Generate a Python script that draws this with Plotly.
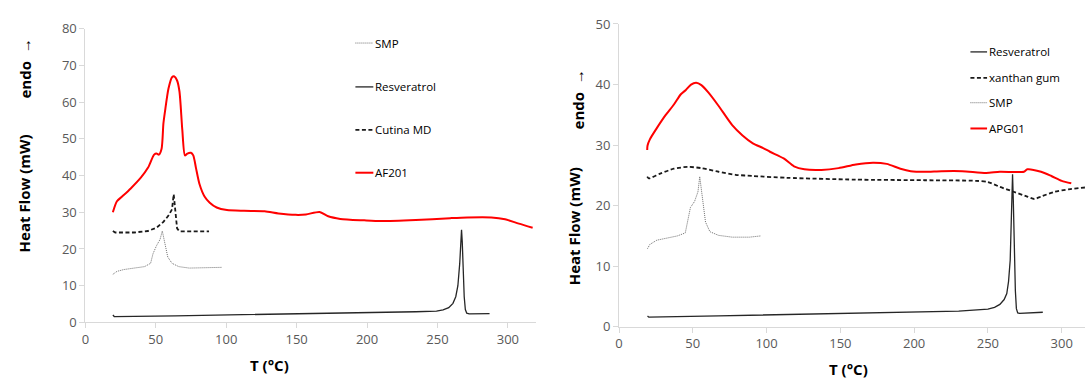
import plotly.graph_objects as go

# ---------------- Left chart data ----------------
af201_T = [19.5, 22.4, 26.1, 32.2, 39.5, 44.4, 48.8, 50.5, 52.2, 54.1, 55.4, 56.6, 59.0, 61.5, 63.2, 65.1,
           66.8, 68.8, 70.7, 72.4, 74.9, 76.6, 78.5, 81.0, 84.6, 88.3, 93.2, 100.5, 112.7, 127.3, 137.1,
           149.3, 156.6, 166.3, 172.4, 181.0, 198.0, 210.0, 234.6, 259.0, 271.2, 288.3, 298.0, 307.8, 317.6]
af201_H = [30.0, 33.0, 34.3, 36.5, 39.5, 42.1, 45.7, 46.0, 45.7, 47.3, 54.2, 57.7, 63.7, 66.8, 67.0, 65.9,
           62.9, 52.5, 45.5, 46.0, 46.2, 45.5, 42.1, 37.7, 34.3, 32.6, 31.3, 30.6, 30.4, 30.3, 29.7,
           29.3, 29.4, 30.1, 28.9, 28.2, 27.8, 27.6, 27.9, 28.4, 28.6, 28.6, 28.1, 26.9, 25.8]

cutina_T = [19.5, 21.2, 34.6, 44.4, 50.5, 55.4, 59.0, 61.5, 62.7, 63.9, 65.1, 66.8, 87.8]
cutina_H = [24.9, 24.5, 24.5, 24.9, 25.8, 27.4, 29.1, 30.8, 34.9, 30.0, 25.6, 24.8, 24.8]

smpL_T = [19.5, 22.4, 27.3, 34.6, 42.0, 46.3, 48.0, 50.5, 53.0, 54.6, 56.6, 58.5, 61.5, 66.3, 73.7, 88.3, 96.8]
smpL_H = [13.1, 13.9, 14.4, 14.8, 15.2, 16.1, 18.7, 20.9, 22.6, 24.9, 21.3, 17.8, 16.1, 15.2, 14.8, 14.8, 15.0]

resL_T = [19.5, 20.5, 63.9, 137.0, 185.9, 234.6, 249.3, 254.0, 258.0, 261.0, 263.0, 264.5, 265.8, 266.6,
          267.1, 267.6, 268.3, 269.0, 269.8, 270.8, 272.5, 287.0]
resL_H = [2.0, 1.6, 1.8, 2.25, 2.5, 2.9, 3.1, 3.4, 4.0, 5.2, 7.0, 10.0, 16.0, 22.0,
          25.2, 22.0, 14.0, 7.0, 3.5, 2.5, 2.3, 2.4]

# ---------------- Right chart data ----------------
apg_T = [19.1, 19.3, 20.9, 25.6, 31.4, 37.2, 41.9, 45.3, 48.8, 52.3, 55.8, 60.5, 67.4, 76.7, 83.7, 90.7,
         97.7, 102.3, 111.6, 118.6, 125.6, 137.2, 148.8, 160.5, 172.1, 181.4, 190.7, 197.7, 207.0, 218.6,
         232.6, 248.8, 258.1, 274.4, 276.7, 286.0, 293.0, 300.0, 306.5]
apg_H = [29.2, 29.9, 30.95, 32.8, 34.9, 36.7, 38.4, 39.1, 40.0, 40.3, 39.9, 38.7, 36.5, 33.3, 31.6, 30.3,
         29.5, 28.9, 27.8, 26.5, 26.0, 25.9, 26.2, 26.8, 27.1, 26.9, 26.1, 25.7, 25.6, 25.7,
         25.7, 25.4, 25.6, 25.6, 26.0, 25.6, 24.9, 24.1, 23.7]

xan_T = [19.1, 20.2, 27.9, 37.2, 46.5, 55.8, 67.4, 79.0, 90.7, 113.9, 160.5, 207.0, 241.9, 250.0, 258.1,
         267.4, 276.7, 281.4, 286.0, 295.3, 304.7, 315.8, 322.0]
xan_H = [24.8, 24.5, 25.3, 26.1, 26.4, 26.2, 25.6, 25.1, 24.9, 24.6, 24.3, 24.2, 24.1, 23.9, 23.1,
         22.3, 21.5, 21.1, 21.5, 22.3, 22.7, 23.0, 23.0]

smpR_T = [19.3, 20.9, 25.6, 32.6, 39.5, 44.9, 46.5, 48.4, 51.2, 53.5, 54.7, 56.3, 58.6, 61.6, 67.4, 76.7, 88.4, 95.8]
smpR_H = [12.9, 13.6, 14.3, 14.6, 15.0, 15.5, 17.3, 19.7, 20.7, 22.3, 24.8, 22.0, 17.3, 15.7, 15.1, 14.8, 14.8, 15.0]

resR_T = [19.3, 20.2, 67.4, 137.2, 183.7, 230.2, 250.0, 254.5, 258.1, 261.0, 262.8, 264.0, 265.1, 266.0,
          266.7, 267.2, 267.9, 268.6, 269.3, 270.2, 271.5, 287.2]
resR_H = [1.8, 1.6, 1.8, 2.1, 2.4, 2.6, 2.9, 3.2, 3.7, 4.5, 5.5, 7.5, 11.0, 18.0,
          25.2, 21.0, 13.0, 6.0, 3.0, 2.3, 2.2, 2.4]

x_ticks = [0, 50, 100, 150, 200, 250, 300]
yL_ticks = [0, 10, 20, 30, 40, 50, 60, 70, 80]
yR_ticks = [0, 10, 20, 30, 40, 50]

legendL = ["SMP", "Resveratrol", "Cutina MD", "AF201"]
legendR = ["Resveratrol", "xanthan gum", "SMP", "APG01"]

# ---------------- Styles ----------------
W, H = 1085, 387
FONT = "Open Sans"
RED = dict(color="#ff0000", width=2)
BLACK = dict(color="#262626", width=1.3)
DASHED = dict(color="#1a1a1a", width=1.8, dash="4px,2.5px")
DOTTED = dict(color="#6e6e6e", width=1, dash="1px,1px")
style = {"SMP": DOTTED, "Resveratrol": BLACK, "Cutina MD": DASHED, "xanthan gum": DASHED,
         "AF201": RED, "APG01": RED}

fig = go.Figure()

def add(x, y, name, xa, ya, shape="linear"):
    line = dict(**style[name], shape=shape)
    if shape == "spline":
        line["smoothing"] = 0.7
    fig.add_trace(go.Scatter(x=x, y=y, mode="lines", name=name, xaxis=xa, yaxis=ya,
                             line=line, showlegend=False))

add(smpL_T, smpL_H, "SMP", "x", "y")
add(resL_T, resL_H, "Resveratrol", "x", "y")
add(cutina_T, cutina_H, "Cutina MD", "x", "y")
add(af201_T, af201_H, "AF201", "x", "y", "spline")

add(resR_T, resR_H, "Resveratrol", "x2", "y2")
add(xan_T, xan_H, "xanthan gum", "x2", "y2", "spline")
add(smpR_T, smpR_H, "SMP", "x2", "y2")
add(apg_T, apg_H, "APG01", "x2", "y2", "spline")

def px_x(p):
    return p / W

def px_y(p):
    return 1 - p / H

axcommon = dict(showgrid=False, zeroline=False, showline=True, linecolor="#d9d9d9", linewidth=1,
                ticks="outside", ticklen=5, tickcolor="#d9d9d9",
                tickfont=dict(family=FONT, size=13, color="#595959"))

fig.update_layout(
    width=W, height=H, margin=dict(l=0, r=0, t=0, b=0),
    paper_bgcolor="white", plot_bgcolor="white",
    xaxis=dict(domain=[px_x(81.7), px_x(534)], range=[0, 320], tickvals=x_ticks, anchor="y", **axcommon),
    yaxis=dict(domain=[px_y(328.7), px_y(20.7)], range=[0, 80], tickvals=yL_ticks, anchor="x", **axcommon),
    xaxis2=dict(domain=[px_x(617.3), 1.0], range=[0, 315.8], tickvals=x_ticks, anchor="y2", **axcommon),
    yaxis2=dict(domain=[px_y(333.3), px_y(15.7)], range=[0, 50], tickvals=yR_ticks, anchor="x2", **axcommon),
    showlegend=False,
)

annotations = []
shapes = []

def title(text, x, y, angle=0, size=15):
    annotations.append(dict(text=text, x=px_x(x), y=px_y(y), xref="paper", yref="paper",
                            showarrow=False, textangle=angle, xanchor="center", yanchor="middle",
                            font=dict(family=FONT, size=size, color="#000000")))

title("<b>T (°C)</b>", 266.7, 373)
title("<b>T (°C)</b>", 848, 378)
title("<b>Heat Flow (mW)</b>", 20, 193.5, -90)
title("<b>endo</b>  →", 21, 62.5, -90)
title("<b>Heat Flow (mW)</b>", 573, 228, -90)
title("<b>endo</b>  →", 576, 95, -90)

def legend(names, ys, x0, x1, xt):
    for n, yy in zip(names, ys):
        st = style[n]
        shapes.append(dict(type="line", xref="paper", yref="paper", x0=px_x(x0), x1=px_x(x1),
                           y0=px_y(yy), y1=px_y(yy),
                           line=dict(color=st["color"], width=st["width"], dash=st.get("dash", "solid"))))
        annotations.append(dict(text=n, x=px_x(xt), y=px_y(yy), xref="paper", yref="paper",
                                showarrow=False, xanchor="left", yanchor="middle",
                                font=dict(family=FONT, size=11.5, color="#000000")))

legend(legendL, [35.7, 81.7, 126.7, 171.7], 352.7, 370.7, 370)
legend(legendR, [45, 72.3, 98.3, 125.3], 970, 986.7, 986.5)

fig.update_layout(annotations=annotations, shapes=shapes)
fig.write_html("out.html")
